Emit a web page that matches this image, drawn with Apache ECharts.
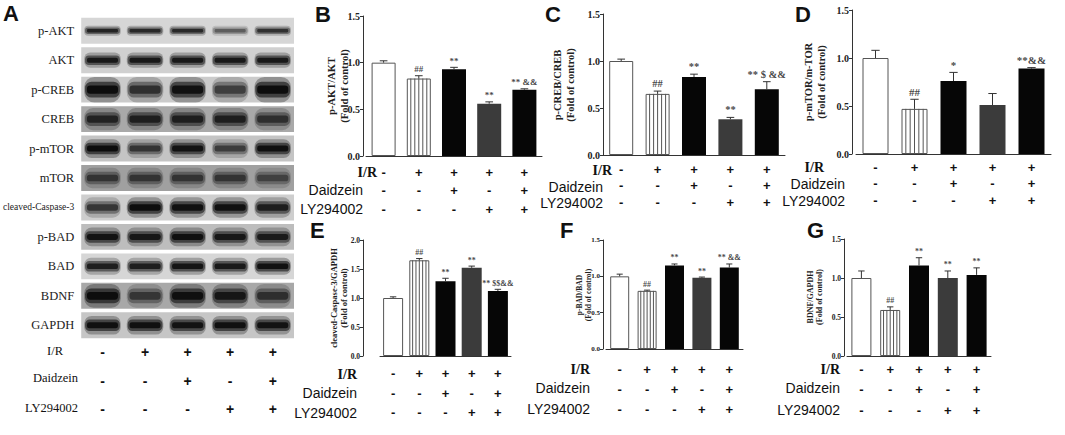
<!DOCTYPE html>
<html>
<head>
<meta charset="utf-8">
<title>Daidzein - AKT/CREB/mTOR blots</title>
<style>
  html, body { margin: 0; padding: 0; background: #fff; }
  #main { width: 1065px; height: 435px; }
</style>
</head>
<body>
<div id="main"></div>
<script src="https://cdn.jsdelivr.net/npm/echarts@6/dist/echarts.min.js"></script>
<script>
// treatment groups (blot lanes and bars)
var groups = ['Sham', 'I/R', 'I/R+Daidzein', 'I/R+LY294002', 'I/R+Daidzein+LY294002'];
var irSigns = ['-', '+', '+', '+', '+'];
var daidzeinSigns = ['-', '-', '+', '-', '+'];
var lySigns = ['-', '-', '-', '+', '+'];

// A: western blot, band darkness per lane (0..1)
var blotProteins = ['p-AKT', 'AKT', 'p-CREB', 'CREB', 'p-mTOR', 'mTOR', 'cleaved-Caspase-3', 'p-BAD', 'BAD', 'BDNF', 'GAPDH'];
var pAktBands = [0.75, 0.7, 0.7, 0.4, 0.65];
var aktBands = [0.85, 0.85, 0.85, 0.85, 0.85];
var pCrebBands = [1.0, 0.65, 0.95, 0.55, 1.0];
var crebBands = [0.7, 0.75, 0.75, 0.75, 0.6];
var pMtorBands = [1.0, 0.6, 0.9, 0.55, 0.95];
var mtorBands = [0.55, 0.55, 0.55, 0.55, 0.45];
var caspBands = [0.6, 1.0, 0.95, 0.95, 0.8];
var pBadBands = [0.9, 0.85, 0.95, 0.85, 0.8];
var badBands = [0.8, 0.8, 0.9, 0.85, 0.95];
var bdnfBands = [1.0, 0.55, 0.95, 0.85, 0.6];
var gapdhBands = [0.95, 0.95, 0.9, 0.95, 0.9];

// B: p-AKT/AKT
var aktMean = [1.00, 0.83, 0.93, 0.56, 0.71];
var aktErr = [0.02, 0.03, 0.02, 0.02, 0.01];
var aktMarks = ['', '##', '**', '**', '** &&'];
// C: p-CREB/CREB
var crebMean = [1.00, 0.65, 0.83, 0.38, 0.70];
var crebErr = [0.02, 0.03, 0.03, 0.02, 0.08];
var crebMarks = ['', '##', '**', '**', '** $ &&'];
// D: p-mTOR/m-TOR
var mtorMean = [1.00, 0.47, 0.76, 0.51, 0.89];
var mtorErr = [0.08, 0.10, 0.09, 0.12, 0.01];
var mtorMarks = ['', '##', '*', '', '**&&'];
// E: cleaved-Caspase-3/GAPDH
var caspMean = [1.00, 1.65, 1.29, 1.52, 1.12];
var caspErr = [0.02, 0.03, 0.05, 0.03, 0.03];
var caspMarks = ['', '##', '**', '**', '** $$&&'];
// F: p-BAD/BAD
var badMean = [1.00, 0.80, 1.15, 0.98, 1.12];
var badErr = [0.03, 0.01, 0.02, 0.01, 0.05];
var badMarks = ['', '##', '**', '**', '** &&'];
// G: BDNF/GAPDH
var bdnfMean = [1.00, 0.59, 1.16, 1.00, 1.04];
var bdnfErr = [0.09, 0.04, 0.10, 0.09, 0.09];
var bdnfMarks = ['', '##', '**', '**', '**'];

// ---- styles ----
var SERIF = '"Liberation Serif", "Times New Roman", serif';
var SANS = '"Liberation Sans", Arial, sans-serif';
var stripShade = ['#d6d6d6', '#d0d0d0', '#cbcbcb', '#a9a9a9', '#c4c4c4', '#a0a0a0', '#cecece', '#bdbdbd', '#d6d6d6', '#a8a8a8', '#c6c6c6'];
var bandHeight = [6, 9, 15, 13, 11, 12, 12, 11, 10, 14, 11];
var barLook = ['open', 'stripe', 'solid', 'grey', 'solid'];
var barStyle = {
    open: {color: '#fff', borderColor: '#555', borderWidth: 1},
    stripe: {color: '#fff', borderColor: '#555', borderWidth: 1},
    solid: {color: '#060606'},
    grey: {color: '#3b3b3b'}
};

var bandRows = [pAktBands, aktBands, pCrebBands, crebBands, pMtorBands, mtorBands, caspBands, pBadBands, badBands, bdnfBands, gapdhBands];

var panels = [
    {mean: aktMean, err: aktErr, marks: aktMarks, name: 'p-AKT/AKT', grid: {left: 366, top: 16, width: 176, height: 140},
        axisX: 363, max: 1.5, bw: 24, nameSize: 10.5, nameAt: [338, 86], tickSize: 10, markSize: 9, signMargin: 7, signLH: 18.5},
    {mean: crebMean, err: crebErr, marks: crebMarks, name: 'p-CREB/CREB', grid: {left: 603, top: 14, width: 182, height: 141},
        axisX: 603, max: 1.5, bw: 24, nameSize: 10.5, nameAt: [564, 85], tickSize: 10, markSize: 10.5, signMargin: 6, signLH: 16.5},
    {mean: mtorMean, err: mtorErr, marks: mtorMarks, name: 'p-mTOR/m-TOR', grid: {left: 856, top: 10, width: 195, height: 144},
        axisX: 852, max: 1.5, bw: 26, nameSize: 10.5, nameAt: [815, 82], tickSize: 10, markSize: 11, signMargin: 5, signLH: 16.5},
    {mean: caspMean, err: caspErr, marks: caspMarks, name: 'cleaved-Caspase-3/GAPDH', grid: {left: 380, top: 240, width: 131, height: 116},
        axisX: 363, max: 2.0, bw: 20, nameSize: 8.5, nameAt: [339, 298], tickSize: 7.5, markSize: 8, signMargin: 8, signLH: 19.5},
    {mean: badMean, err: badErr, marks: badMarks, name: 'p-BAD/BAD', grid: {left: 606, top: 240, width: 137, height: 109},
        axisX: 603, max: 1.5, bw: 19, nameSize: 7.5, nameAt: [584, 295], tickSize: 7, markSize: 8, signMargin: 10, signLH: 20},
    {mean: bdnfMean, err: bdnfErr, marks: bdnfMarks, name: 'BDNF/GAPDH', grid: {left: 847, top: 239, width: 144, height: 117},
        axisX: 844, max: 1.5, bw: 20, nameSize: 8, nameAt: [815, 297], tickSize: 7.5, markSize: 8, signMargin: 3, signLH: 20.5}
];

function signText(v, i) {
    return irSigns[i] + '\n' + daidzeinSigns[i] + '\n' + lySigns[i];
}

var chart = echarts.init(document.getElementById('main'), null, {renderer: 'svg'});

var grids = [{left: 80, top: 16, width: 214, height: 324}];
var xAxes = [{
    gridIndex: 0, type: 'category', data: groups,
    axisLine: {show: false}, axisTick: {show: false},
    axisLabel: {interval: 0, formatter: signText, margin: -2, lineHeight: 28.5,
        fontFamily: SANS, fontWeight: 'bold', fontSize: 14, color: '#111'}
}];
var yAxes = [{
    gridIndex: 0, type: 'category', data: blotProteins, inverse: true,
    axisLine: {show: false}, axisTick: {show: false},
    axisLabel: {interval: 0, margin: 7, fontFamily: SERIF, fontSize: 12.5, color: '#222',
        formatter: function (v) { return v.length > 10 ? '{s|' + v + '}' : v; },
        rich: {s: {fontFamily: SERIF, fontSize: 9.5, color: '#222'}}}
}];

// blot strips and bands
var stripData = blotProteins.map(function (p, r) { return [2, r]; });
var bandData = [];
bandRows.forEach(function (row, r) {
    row.forEach(function (d, l) { bandData.push([l, r, d]); });
});

var series = [{
    type: 'custom', xAxisIndex: 0, yAxisIndex: 0, data: stripData, z: 1, silent: true,
    renderItem: function (params, api) {
        var c = api.coord([api.value(0), api.value(1)]);
        var s = api.size([1, 1]);
        var h = s[1] * 0.88;
        return {type: 'rect', shape: {x: c[0] - s[0] * 2.5, y: c[1] - h / 2, width: s[0] * 5, height: h},
            style: {fill: stripShade[api.value(1)]}};
    }
}, {
    type: 'custom', xAxisIndex: 0, yAxisIndex: 0, data: bandData, z: 2, silent: true,
    renderItem: function (params, api) {
        var c = api.coord([api.value(0), api.value(1)]);
        var s = api.size([1, 1]);
        var d = api.value(2);
        var w = s[0] * 0.86, h = bandHeight[api.value(1)];
        var layers = [[1.0, 1.7, 0.3], [0.95, 1.05, 0.6], [0.85, 0.55, 0.95]];
        return {type: 'group', children: layers.map(function (L) {
            var ww = w * L[0], hh = h * L[1];
            return {type: 'rect', shape: {x: c[0] - ww / 2, y: c[1] - hh / 2, width: ww, height: hh, r: hh * 0.4},
                style: {fill: '#0b0b0b', opacity: d * L[2]}};
        })};
    }
}];

var nameTexts = [];
panels.forEach(function (p, k) {
    var gi = k + 1;
    grids.push(p.grid);
    xAxes.push({
        gridIndex: gi, type: 'category', data: groups,
        axisLine: {lineStyle: {color: '#333', width: 1}}, axisTick: {show: false},
        axisLabel: {interval: 0, formatter: signText, margin: p.signMargin, lineHeight: p.signLH,
            fontFamily: SANS, fontWeight: 'bold', fontSize: 13, color: '#111'}
    });
    yAxes.push({
        gridIndex: gi, type: 'value', min: 0, max: p.max, interval: 0.5,
        offset: p.grid.left - p.axisX,
        axisLine: {show: true, lineStyle: {color: '#333', width: 1}},
        axisTick: {show: true, length: 3, lineStyle: {color: '#333'}},
        splitLine: {show: false},
        axisLabel: {margin: 3, showMinLabel: true, showMaxLabel: true, hideOverlap: false,
            fontFamily: SERIF, fontWeight: 'bold', fontSize: p.tickSize, color: '#222',
            formatter: function (v) { return v.toFixed(1); }}
    });
    // axis title, two rotated lines
    nameTexts.push({type: 'text', x: p.nameAt[0], y: p.nameAt[1], rotation: Math.PI / 2, silent: true,
        style: {text: p.name + '\n(Fold of control)', fill: '#222', align: 'center', verticalAlign: 'middle',
            font: 'bold ' + p.nameSize + 'px ' + SERIF, lineHeight: p.nameSize * 1.15}});
    series.push({
        type: 'bar', xAxisIndex: gi, yAxisIndex: gi, barWidth: p.bw, silent: true,
        data: p.mean.map(function (m, i) { return {value: m, itemStyle: barStyle[barLook[i]]}; })
    });
    // error bars and the stripes of the I/R bar
    series.push({
        type: 'custom', xAxisIndex: gi, yAxisIndex: gi, z: 3, silent: true, clip: false,
        encode: {x: 0, y: 1},
        data: p.mean.map(function (m, i) { return [i, m, p.err[i]]; }),
        renderItem: function (params, api) {
            var i = api.value(0), m = api.value(1), e = api.value(2);
            var base = api.coord([i, 0]), top = api.coord([i, m]), tip = api.coord([i, m + e]);
            var kids = [];
            if (barLook[i] === 'stripe') {
                var left = top[0] - p.bw / 2, step = p.bw / 6;
                for (var s = 1; s < 6; s++) {
                    kids.push({type: 'line', shape: {x1: left + s * step, y1: top[1], x2: left + s * step, y2: base[1]},
                        style: {stroke: '#555', lineWidth: 1}});
                }
            }
            var cap = p.bw * 0.16;
            kids.push({type: 'line', shape: {x1: tip[0], y1: top[1], x2: tip[0], y2: tip[1]}, style: {stroke: '#333', lineWidth: 1}});
            kids.push({type: 'line', shape: {x1: tip[0] - cap, y1: tip[1], x2: tip[0] + cap, y2: tip[1]}, style: {stroke: '#333', lineWidth: 1}});
            return {type: 'group', children: kids};
        }
    });
    // significance marks above the error bars
    series.push({
        type: 'scatter', xAxisIndex: gi, yAxisIndex: gi, z: 4, silent: true, symbolSize: 0,
        data: p.mean.map(function (m, i) { return [i, m + p.err[i]]; }),
        label: {show: true, position: 'top', distance: 2, color: '#111',
            fontFamily: SERIF, fontWeight: 'bold', fontSize: p.markSize,
            formatter: function (prm) { return p.marks[prm.dataIndex]; }}
    });
});

// panel letters and treatment row labels
function txt(s, x, y, font, align) {
    return {type: 'text', x: x, y: y, silent: true,
        style: {text: s, font: font, fill: '#111', align: align || 'right', verticalAlign: 'middle'}};
}
var letterFont = 'bold 22px ' + SANS;
var irFont = 'bold 14px ' + SERIF;
var rowFont = '14px ' + SANS;
var graphics = nameTexts.concat([
    txt('A', 3, 13, letterFont, 'left'), txt('B', 315, 14, letterFont, 'left'), txt('C', 545, 14, letterFont, 'left'),
    txt('D', 795, 14, letterFont, 'left'), txt('E', 310, 230, letterFont, 'left'), txt('F', 560, 230, letterFont, 'left'),
    txt('G', 807, 230, letterFont, 'left'),
    txt('I/R', 63, 351, '12.5px ' + SERIF), txt('Daidzein', 78, 378, '12.5px ' + SERIF), txt('LY294002', 78, 408, '12.5px ' + SERIF),
    txt('I/R', 377, 172, irFont), txt('Daidzein', 363, 190, rowFont), txt('LY294002', 363, 209, rowFont),
    txt('I/R', 612, 170, irFont), txt('Daidzein', 603, 187, rowFont), txt('LY294002', 603, 203, rowFont),
    txt('I/R', 824, 167, irFont), txt('Daidzein', 845, 184, rowFont), txt('LY294002', 845, 201, rowFont),
    txt('I/R', 357, 374, irFont), txt('Daidzein', 357, 393, rowFont), txt('LY294002', 357, 413, rowFont),
    txt('I/R', 590, 369, irFont), txt('Daidzein', 590, 388, rowFont), txt('LY294002', 590, 409, rowFont),
    txt('I/R', 840, 369, irFont), txt('Daidzein', 840, 388, rowFont), txt('LY294002', 840, 410, rowFont)
]);

chart.setOption({
    backgroundColor: '#fff',
    animation: false,
    grid: grids,
    xAxis: xAxes,
    yAxis: yAxes,
    series: series,
    graphic: graphics
});

// if an axis dropped its top tick label, put that label back as text
var svgTexts = Array.prototype.slice.call(document.querySelectorAll('#main text'));
var extra = [];
panels.forEach(function (p) {
    var want = p.max.toFixed(1);
    var found = svgTexts.some(function (t) {
        if (t.textContent.trim() !== want) return false;
        var r = t.getBoundingClientRect();
        return Math.abs((r.top + r.bottom) / 2 - p.grid.top) < 8 && Math.abs(r.right - (p.axisX - 6)) < 14;
    });
    if (!found) {
        extra.push(txt(want, p.axisX - 6, p.grid.top, 'bold ' + p.tickSize + 'px ' + SERIF));
    }
});
if (extra.length) {
    extra.forEach(function (e) { e.style.fill = '#222'; });
    chart.setOption({graphic: graphics.concat(extra)});
}
</script>
</body>
</html>
